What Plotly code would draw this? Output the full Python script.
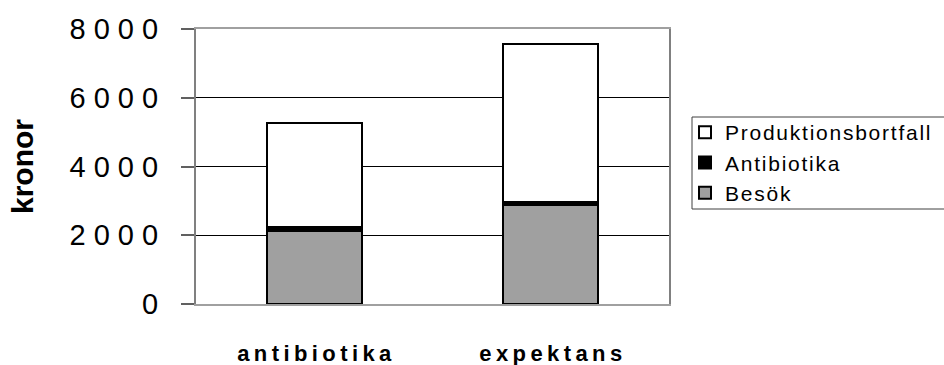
import plotly.graph_objects as go

# Cost per strategy, stacked by component (kronor)
categories = ["antibiotika", "expektans"]
besok = [2130, 2890]
antibiotika_kostnad = [120, 90]
produktionsbortfall = [3010, 4590]

series_names = ["Besök", "Antibiotika", "Produktionsbortfall"]
y_ticks = [0, 2000, 4000, 6000, 8000]

FONT = "Liberation Sans, Arial, sans-serif"
HAIR = "\u200a"
THIN = "\u2009"

W, H = 944, 365
PLOT_L, PLOT_R, PLOT_T, PLOT_B = 196, 669, 29, 304


def spaced(text, gap):
    """Letter-spaced version of a label."""
    return gap.join(text)


def px_to_paper_x(px):
    return (px - PLOT_L) / (PLOT_R - PLOT_L)


def px_to_paper_y(py):
    return (PLOT_B - py) / (PLOT_B - PLOT_T)


fig = go.Figure()

series = [
    (series_names[0], besok, "#a0a0a0"),
    (series_names[1], antibiotika_kostnad, "#000000"),
    (series_names[2], produktionsbortfall, "#ffffff"),
]
for name, values, color in series:
    fig.add_trace(
        go.Bar(
            x=categories,
            y=values,
            name=spaced(name, HAIR),
            marker=dict(color=color, line=dict(color="#000000", width=2)),
        )
    )

fig.update_layout(
    width=W,
    height=H,
    autosize=False,
    margin=dict(l=PLOT_L, r=W - PLOT_R, t=PLOT_T, b=H - PLOT_B, autoexpand=False),
    barmode="stack",
    bargap=0.6,
    paper_bgcolor="white",
    plot_bgcolor="white",
    font=dict(family=FONT, color="black"),
    showlegend=True,
    legend=dict(
        xref="container",
        yref="container",
        x=685 / W,
        y=1 - 112 / H,
        xanchor="left",
        yanchor="top",
        traceorder="reversed",
        font=dict(family=FONT, size=21, color="black"),
        borderwidth=0,
        bgcolor="rgba(0,0,0,0)",
    ),
)

# legend frame
fig.add_shape(
    type="rect",
    xref="paper",
    yref="paper",
    x0=px_to_paper_x(692),
    x1=px_to_paper_x(952),
    y0=px_to_paper_y(209),
    y1=px_to_paper_y(117),
    line=dict(color="#404040", width=1),
    fillcolor="rgba(0,0,0,0)",
    layer="above",
)

fig.update_xaxes(
    automargin=False,
    tickvals=categories,
    ticktext=[spaced(c, THIN) for c in categories],
    tickfont=dict(family=FONT, size=22, color="black", weight="bold"),
    showgrid=False,
    ticks="",
    showline=True,
    linecolor="#a0a0a0",
    linewidth=2,
    mirror=True,
    ticklabelstandoff=29,
)

fig.update_yaxes(
    automargin=False,
    range=[0, 8000],
    tickvals=y_ticks,
    ticktext=[spaced(str(v), " ") for v in y_ticks],
    tickfont=dict(family=FONT, size=29, color="black"),
    ticks="outside",
    ticklen=13,
    tickwidth=1.5,
    tickcolor="#606060",
    showgrid=True,
    gridcolor="#000000",
    gridwidth=1,
    zeroline=False,
    showline=True,
    linecolor="#808080",
    linewidth=2,
    mirror=True,
    ticklabelstandoff=17,
)

fig.add_annotation(
    text="kronor",
    textangle=-90,
    x=px_to_paper_x(22.5),
    y=0.5,
    xref="paper",
    yref="paper",
    xanchor="center",
    yanchor="middle",
    showarrow=False,
    font=dict(family=FONT, size=30, color="black", weight="bold"),
)

fig.write_html("out.html")
